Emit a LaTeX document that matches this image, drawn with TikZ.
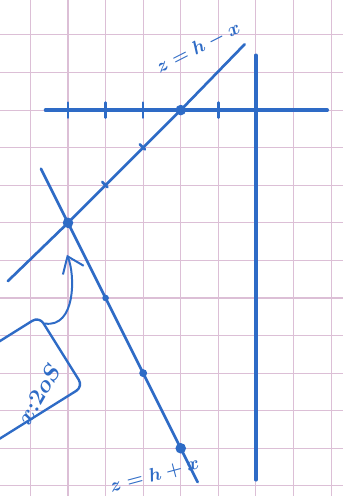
\documentclass[tikz,border=0pt]{standalone}
\usepackage{amsmath}
\usepackage{tikz}
\usetikzlibrary{calc, arrows.meta}
\definecolor{inkBlue}{HTML}{2E6BC6}
\definecolor{gridPink}{HTML}{DCBFD6}

\begin{document}
\begin{tikzpicture}[
    ink/.style={inkBlue, line width=2pt, line cap=round},
    axis/.style={ink, line width=2.6pt},
    dot/.style={circle, fill=inkBlue, inner sep=0pt, minimum size=#1},
    dot/.default=8pt,
    hand/.style={inkBlue, font=\Large\boldmath}
  ]
    \useasboundingbox (-6.81,-10.27) rectangle (2.31,2.93);
    \fill[white] (-6.81,-10.27) rectangle (2.31,2.93);
    \draw[gridPink, line width=0.8pt] (-6.81,-10.27) grid (2.31,2.93);
    \draw[axis] (-5.6,0) -- (1.9,0);
    \draw[axis] (0,1.46) -- (0,-9.84);
    \foreach \t in {-5,-4,-3,-1}
        \draw[ink] (\t,0.2) -- (\t,-0.2);
    \node[dot] (top) at (-2,0) {};
    \node[dot] (cross) at (-5,-3) {};
    \node[dot=6pt] (mid) at (-3,-7) {};
    \node[dot] (low) at (-2,-9) {};
    \coordinate (a1) at (-6.6,-4.55);
    \coordinate (a2) at (-0.3,1.75);
    \coordinate (b1) at (-5.72,-1.56);
    \coordinate (b2) at (-1.55,-9.9);
    \draw[ink] (a1) -- (cross.center) -- (top.center) -- (a2);
    \draw[ink] (b1) -- (cross.center) -- (mid.center) -- (low.center) -- (b2);
    \draw[ink] (-3.09,-0.91) -- (-2.95,-1.05);
    \draw[ink] (-4.09,-1.91) -- (-3.95,-2.05);
    \node[dot=5pt] (tick) at (-4,-5) {};
    \node[draw=inkBlue, line width=1.8pt, rounded corners=6pt, rotate=32,
        minimum width=3.6cm, minimum height=2.2cm] (cond) at (-6.71,-7.38) {};
    \node[hand, font=\LARGE\boldmath, rotate=60] (condtext) at (-5.78,-7.55) {$x{:}2oS$};
    \coordinate (tail) at ($(cond.north east)!0.12!(cond.south east)$);
    \coordinate (tip) at (-5.03,-3.85);
    \draw[ink, line width=1.5pt, -{Straight Barb[length=4mm,width=6mm]}]
        (tail) .. controls (-4.8,-5.8) and (-4.8,-4.4) .. (tip);
    \node[hand, rotate=27] (upperlabel) at (-1.53,1.66) {$z=h-x$};
    \node[hand, rotate=15] (lowerlabel) at (-2.7,-9.72) {$z=h+x$};
\end{tikzpicture}
\end{document}
